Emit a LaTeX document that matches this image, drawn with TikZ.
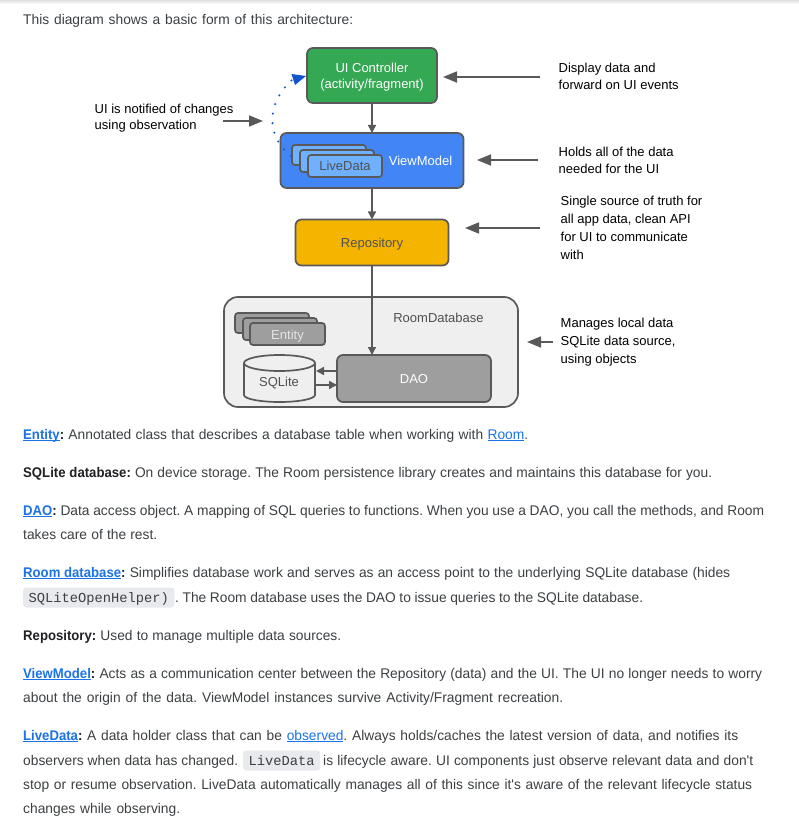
\documentclass[tikz,border=0pt]{standalone}
\usepackage{fontspec}
\setmainfont{Liberation Sans}
\setmonofont{Liberation Mono}
\newfontfamily\parafont{Liberation Sans}[FakeStretch=0.985,BoldFeatures={FakeStretch=0.94}]
\usetikzlibrary{arrows.meta}
\definecolor{bord}{HTML}{595959}
\definecolor{ctext}{HTML}{3C4043}
\definecolor{cbold}{HTML}{202124}
\definecolor{clink}{HTML}{1A73E8}
\definecolor{ccode}{HTML}{E8EAED}
\definecolor{cdots}{HTML}{1155CC}
\definecolor{croom}{HTML}{EFEFEF}
\definecolor{cgreen}{HTML}{34A853}
\definecolor{cblue}{HTML}{4285F4}
\definecolor{cyellow}{HTML}{F4B400}
\definecolor{clive}{HTML}{6FB1FF}
\definecolor{cgray}{HTML}{9E9E9E}
\definecolor{cdark}{HTML}{505050}
\newcommand{\lnk}[1]{\textcolor{clink}{\setbox0\hbox{#1}\rlap{\rule[-1.6pt]{\wd0}{0.9pt}}\box0}}
\newcommand{\bfc}[1]{\textcolor{cbold}{\bfseries #1}}
\newcommand{\fitl}[2]{\makebox[#1pt][s]{#2}}
\newcommand{\lowr}{\rule{0pt}{13pt}}
\frenchspacing
\hbadness=10000
\hfuzz=20pt
\tikzset{
  box/.style={draw=bord,line width=1.7pt,rounded corners=6pt,inner sep=0pt,outer sep=0pt,align=center,font=\fontsize{13}{16}\selectfont},
  small/.style={box,rounded corners=3pt},
  label/.style={inner sep=0pt,font=\fontsize{13}{16}\selectfont},
  note/.style={anchor=west,inner sep=0pt,align=left,text=black,font=\fontsize{13}{18}\selectfont},
  para/.style={anchor=base west,inner sep=0pt,text=ctext,font=\parafont\fontsize{14}{18}\selectfont},
  code/.style={anchor=base west,fill=ccode,rounded corners=3pt,inner xsep=5.5pt,inner ysep=0pt,text height=14.5pt,text depth=5.5pt,text=ctext,font=\ttfamily\fontsize{13.75}{18}\selectfont},
  flow/.style={draw=bord,line width=1.5pt,-{Triangle[length=8pt,width=8pt]}},
  callout/.style={draw=bord,line width=1.7pt,-{Triangle[length=14pt,width=11pt]}},
}
\begin{document}
\begin{tikzpicture}[x=1pt,y=-1pt]
\useasboundingbox (0,0) rectangle (799,826);
\fill[white] (0,0) rectangle (799,826);
\shade[top color=black!12,bottom color=white] (0,0) rectangle (799,4);
\node[para] (intro) at (23,25) {\fitl{330}{This diagram shows a basic form of this architecture:}};
% diagram boxes
\node[box,fill=croom,rounded corners=14pt,minimum width=294pt,minimum height=110pt] (room) at (371,352) {};
\node[box,fill=cgreen,text=white,minimum width=130pt,minimum height=55pt] (ui) at (372,75.5) {\lowr UI Controller\\(activity/fragment)};
\node[box,fill=cblue,minimum width=183pt,minimum height=55pt] (vm) at (372,160.5) {};
\node[label,text=white] (vmt) at (420.5,161) {ViewModel};
\node[box,fill=cyellow,text=cdark,minimum width=153pt,minimum height=46pt] (repo) at (372,242.5) {\lowr Repository};
% dotted observation curve
\coordinate (dotS) at (291,156);
\coordinate (dotE) at (292,80);
\draw[cdots,line width=2.3pt,line cap=round,dash pattern=on 0pt off 9.7pt] (dotS) .. controls (266,137) and (266,103) .. (dotE);
\coordinate (tipA) at (306,76);
\coordinate (tipB) at (291.5,74);
\coordinate (tipC) at (295,85);
\fill[cdots] (tipA) -- (tipB) -- (tipC) -- cycle;
% LiveData stack
\node[small,fill=clive,minimum width=74pt,minimum height=20pt] (ld1) at (329,155) {};
\node[small,fill=clive,minimum width=74pt,minimum height=22pt] (ld2) at (337,161) {};
\node[small,fill=clive,text=cdark,minimum width=74pt,minimum height=22pt] (ld3) at (345,166) {LiveData};
% room content
\node[small,fill=cgray,minimum width=74pt,minimum height=20pt] (en1) at (272,323) {};
\node[small,fill=cgray,minimum width=74pt,minimum height=22pt] (en2) at (280,329) {};
\node[small,fill=cgray,text=white!90!black,minimum width=75pt,minimum height=22pt] (en3) at (287.5,334) {\lowr Entity};
\node[box,fill=cgray,text=white,minimum width=154pt,minimum height=47pt] (dao) at (414,378.5) {\rule{0pt}{11pt}DAO};
\node[inner sep=0pt,outer sep=0pt,minimum width=71pt,minimum height=47pt] (sql) at (279.5,378.5) {};
\draw[draw=bord,line width=1.7pt,fill=croom]
  ([yshift=-8pt]sql.north west) -- ([yshift=7pt]sql.south west)
  arc[start angle=180,end angle=360,x radius=35.5pt,y radius=7pt]
  -- ([yshift=-8pt]sql.north east)
  arc[start angle=0,end angle=180,x radius=35.5pt,y radius=8pt] -- cycle;
\draw[draw=bord,line width=1.7pt] ([yshift=-8pt]sql.north west)
  arc[start angle=180,end angle=360,x radius=35.5pt,y radius=8pt];
\node[label,text=cdark] (sqlt) at (279,383) {SQLite};
\node[label,text=cdark] (roomt) at (438.5,318) {RoomDatabase};
% flows
\draw[flow] (ui.south) -- (vm.north);
\draw[flow] (vm.south) -- (repo.north);
\draw[flow] (repo.south) -- (repo.south |- dao.north);
\coordinate (sqA) at (316,371);
\coordinate (sqB) at (316,385);
\draw[flow] (dao.west |- sqA) -- (sqA);
\draw[flow] (sqB) -- (dao.west |- sqB);
% callouts
\node[note,font=\fontsize{13}{17}\selectfont] (n1) at (558.5,76.5) {Display data and\\forward on UI events};
\node[note,font=\fontsize{13}{17}\selectfont] (n2) at (558.5,160) {Holds all of the data\\needed for the UI};
\node[note] (n3) at (560.5,228) {Single source of truth for\\all app data, clean API\\for UI to communicate\\with};
\node[note] (n4) at (560.5,342) {Manages local data\\SQLite data source,\\using objects};
\node[note,font=\fontsize{13}{16}\selectfont] (n5) at (94.5,118) {UI is notified of changes\\using observation};
\coordinate (c1) at (540,77);
\coordinate (c2) at (538,160);
\coordinate (c3) at (540,228);
\coordinate (c4) at (553,342);
\coordinate (c5s) at (223,121);
\coordinate (c1e) at (443,77);
\coordinate (c2e) at (477,160);
\coordinate (c3e) at (465,228);
\coordinate (c4e) at (527,342);
\coordinate (c5e) at (263,121);
\draw[callout] (c1) -- (c1e);
\draw[callout] (c2) -- (c2e);
\draw[callout] (c3) -- (c3e);
\draw[callout] (c4) -- (c4e);
\draw[callout] (c5s) -- (c5e);
% paragraphs
\node[para] (p1) at (23,439) {\fitl{505}{\lnk{\bfseries Entity}\bfc{:} Annotated class that describes a database table when working with \lnk{Room}.}};
\node[para] (p2) at (23,477) {\fitl{689}{\bfc{SQLite database:} On device storage. The Room persistence library creates and maintains this database for you.}};
\node[para] (p3) at (23,515) {\fitl{741}{\lnk{\bfseries DAO}\bfc{:} Data access object. A mapping of SQL queries to functions. When you use a DAO, you call the methods, and Room}};
\node[para] (p3b) at (23,539) {\fitl{134}{takes care of the rest.}};
\node[para] (p4) at (23,577) {\fitl{707}{\lnk{\bfseries Room database}\bfc{:} Simplifies database work and serves as an access point to the underlying SQLite database (hides}};
\node[code] (c4a) at (23,602) {SQLiteOpenHelper)};
\node[para] (p4b) at (175,602) {\fitl{468}{. The Room database uses the DAO to issue queries to the SQLite database.}};
\node[para] (p5) at (23,640) {\fitl{318}{\bfc{Repository:} Used to manage multiple data sources.}};
\node[para] (p6) at (23,678) {\fitl{739}{\lnk{\bfseries ViewModel}\bfc{:} Acts as a communication center between the Repository (data) and the UI. The UI no longer needs to worry}};
\node[para] (p6b) at (23,702) {\fitl{540}{about the origin of the data. ViewModel instances survive Activity/Fragment recreation.}};
\node[para] (p7) at (23,740) {\fitl{715}{\lnk{\bfseries LiveData}\bfc{:} A data holder class that can be \lnk{observed}. Always holds/caches the latest version of data, and notifies its}};
\node[para] (p7b) at (23,765) {\fitl{215}{observers when data has changed.}};
\node[code] (c7) at (243,765) {LiveData};
\node[para] (p7c) at (323,765) {\fitl{430}{is lifecycle aware. UI components just observe relevant data and don't}};
\node[para] (p7d) at (23,789) {\fitl{729}{stop or resume observation. LiveData automatically manages all of this since it's aware of the relevant lifecycle status}};
\node[para] (p7e) at (23,813) {\fitl{157}{changes while observing.}};
\end{tikzpicture}
\end{document}
